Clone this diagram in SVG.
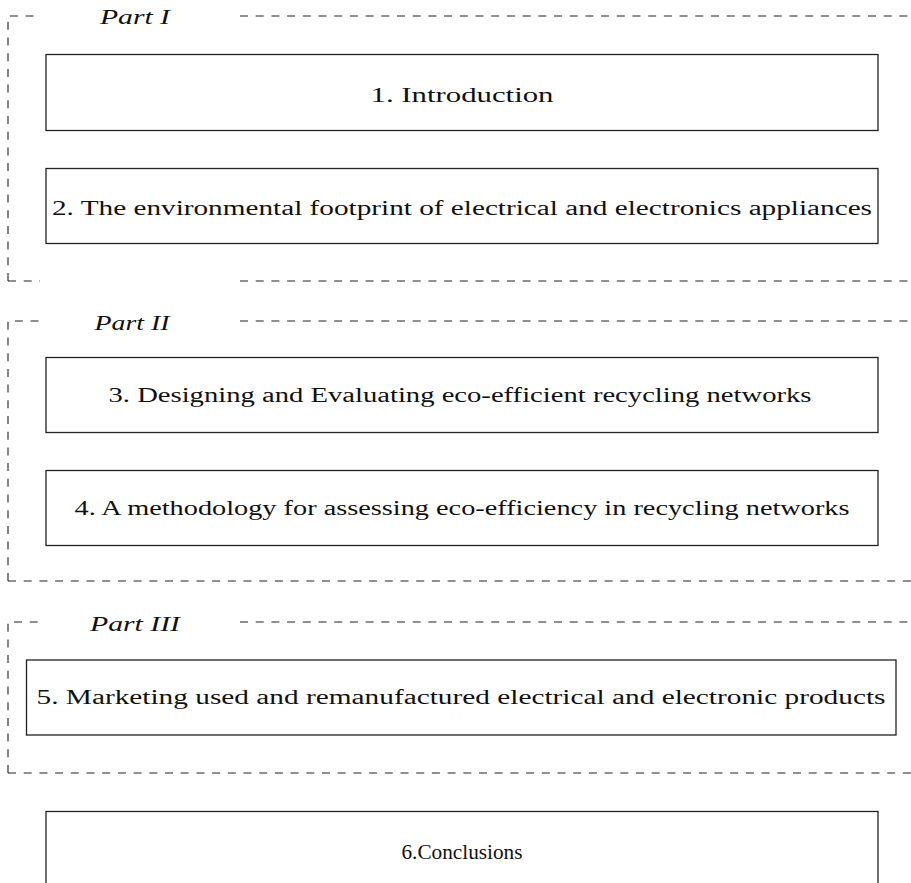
<svg xmlns="http://www.w3.org/2000/svg" width="911" height="883" viewBox="0 0 911 883">
<style>
.frame{fill:none;stroke:#222;stroke-width:1.1;stroke-dasharray:8 7.7}
.box{fill:#fff;stroke:#222;stroke-width:1.3}
.t{font-family:"Liberation Serif","DejaVu Serif",serif;font-size:20.5px;fill:#111;text-anchor:middle}
.p{font-family:"Liberation Serif","DejaVu Serif",serif;font-size:20.5px;font-style:italic;fill:#111;text-anchor:middle}
</style>
<rect width="911" height="883" fill="#fff"/>
<g id="part1">
<path class="frame" d="M8 281 V16 H40 M240 16 H915 M8 281 H40 M240 281 H915"/>
<text class="p" x="135" y="24" textLength="70" lengthAdjust="spacingAndGlyphs">Part I</text>
</g>
<g id="part2">
<path class="frame" d="M8 581 V321 H40 M240 321 H915 M8 581 H915"/>
<text class="p" x="132" y="330" textLength="75" lengthAdjust="spacingAndGlyphs">Part II</text>
</g>
<g id="part3">
<path class="frame" d="M8 773 V622 H40 M240 622 H915 M8 773 H915"/>
<text class="p" x="135" y="631" textLength="90" lengthAdjust="spacingAndGlyphs">Part III</text>
</g>
<g id="n1">
<rect class="box" x="46" y="54.5" width="832" height="76"/>
<text class="t" x="462" y="102" textLength="183" lengthAdjust="spacingAndGlyphs">1. Introduction</text>
</g>
<g id="n2">
<rect class="box" x="46" y="168.5" width="832" height="75"/>
<text class="t" x="462" y="215" textLength="820" lengthAdjust="spacingAndGlyphs">2. The environmental footprint of electrical and electronics appliances</text>
</g>
<g id="n3">
<rect class="box" x="46" y="357.5" width="832" height="75"/>
<text class="t" x="460" y="402" textLength="703" lengthAdjust="spacingAndGlyphs">3. Designing and Evaluating eco-efficient recycling networks</text>
</g>
<g id="n4">
<rect class="box" x="46" y="470.5" width="832" height="75"/>
<text class="t" x="462" y="515" textLength="775" lengthAdjust="spacingAndGlyphs">4. A methodology for assessing eco-efficiency in recycling networks</text>
</g>
<g id="n5">
<rect class="box" x="26.5" y="660" width="869.5" height="75"/>
<text class="t" x="461" y="704" textLength="849" lengthAdjust="spacingAndGlyphs">5. Marketing used and remanufactured electrical and electronic products</text>
</g>
<g id="n6">
<rect class="box" x="46" y="811.5" width="832" height="90"/>
<text class="t" x="462" y="859" textLength="121" lengthAdjust="spacingAndGlyphs">6.Conclusions</text>
</g>
<g id="connectors"></g>
</svg>
